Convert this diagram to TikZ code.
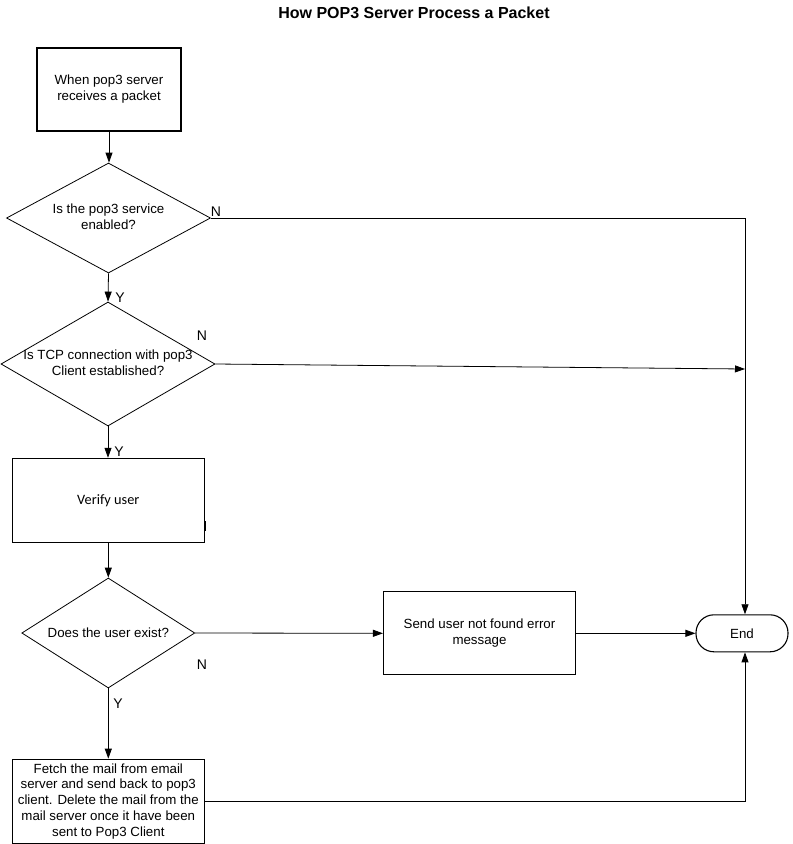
\documentclass[tikz,border=0pt]{standalone}
\usepackage{fontspec}
\setmainfont{Liberation Sans}
\newfontfamily\calib{Carlito}
\usetikzlibrary{shapes.geometric,arrows.meta}
\begin{document}
\begin{tikzpicture}[x=1pt,y=-1pt,
  every node/.style={font=\fontsize{13.3}{16}\selectfont},
  procbox/.style={draw, line width=1.1pt, inner sep=0pt, align=center},
  dec/.style={draw, diamond, line width=0.8pt, inner sep=0pt},
  txt/.style={align=center, inner sep=0pt},
  lbl/.style={font=\fontsize{14}{16}\selectfont, inner sep=0pt},
  conn/.style={line width=0.8pt, -{Triangle[length=10pt,width=7pt]}}]
\useasboundingbox (0,0) rectangle (793,844);
\node (title) at (414,13) {\bfseries\fontsize{16}{19}\selectfont How POP3 Server Process a Packet};
\node[procbox, minimum width=144pt, minimum height=83pt] (start) at (109,89.5) {When pop3 server\\receives a packet};
\node[dec, minimum width=204pt, minimum height=110pt] (d1) at (108.5,218) {};
\node[txt] (d1t) at (108.5,217) {Is the pop3 service\\enabled?};
\node[dec, minimum width=214pt, minimum height=124pt] (d2) at (108,364) {};
\node[txt] (d2t) at (108,363) {Is TCP connection with pop3\\Client established?};
\node[procbox, minimum width=192pt, minimum height=84pt] (verify) at (108.3,500.3) {\calib\fontsize{14.3}{17}\selectfont Verify user};
\node[dec, minimum width=173pt, minimum height=110pt] (d3) at (108.3,633) {};
\node[txt] (d3t) at (108.3,633) {Does the user exist?};
\node[procbox, minimum width=192pt, minimum height=84pt, font=\fontsize{13.3}{15.7}\selectfont] (fetch) at (108.3,801.2) {Fetch the mail from email\\server and send back to pop3\\client. Delete the mail from the\\mail server once it have been\\sent to Pop3 Client};
\node[procbox, minimum width=192pt, minimum height=83pt] (err) at (479.5,633.3) {Send user not found error\\message};
\node[draw, rounded corners=18pt, line width=1.1pt, minimum width=92pt, minimum height=37pt, inner sep=0pt] (end) at (742,633.3) {End};
\coordinate (j1) at (745,222);
\coordinate (j2) at (745,369);
\coordinate (j3) at (745,800);
\draw[conn] (start.south) -- (start.south |- d1.north);
\draw[conn] (d1.south) -- (d2.north);
\draw[conn] (d2.south) -- (d2.south |- verify.north);
\draw[conn] (verify.south) -- (d3.north);
\draw[conn] (d3.south) -- (fetch.north);
\draw[conn] (d3.east) -- (err.west);
\draw[conn] (err.east) -- (end.west);
\draw[conn] (d1.east) -| (end.north -| j1);
\draw[conn] (d2.east) -- (j2);
\draw[conn] (fetch.east) -| (end.south -| j3);
\draw[line width=2.2pt] (verify.east |- 0,521) -- (verify.east |- 0,531);
\node[lbl] (n1) at (216,212) {N};
\node[lbl] (y1) at (120,298) {Y};
\node[lbl] (n2) at (202,336) {N};
\node[lbl] (y2) at (119,452) {Y};
\node[lbl] (n3) at (202,665) {N};
\node[lbl] (y3) at (118,704) {Y};
\end{tikzpicture}
\end{document}
